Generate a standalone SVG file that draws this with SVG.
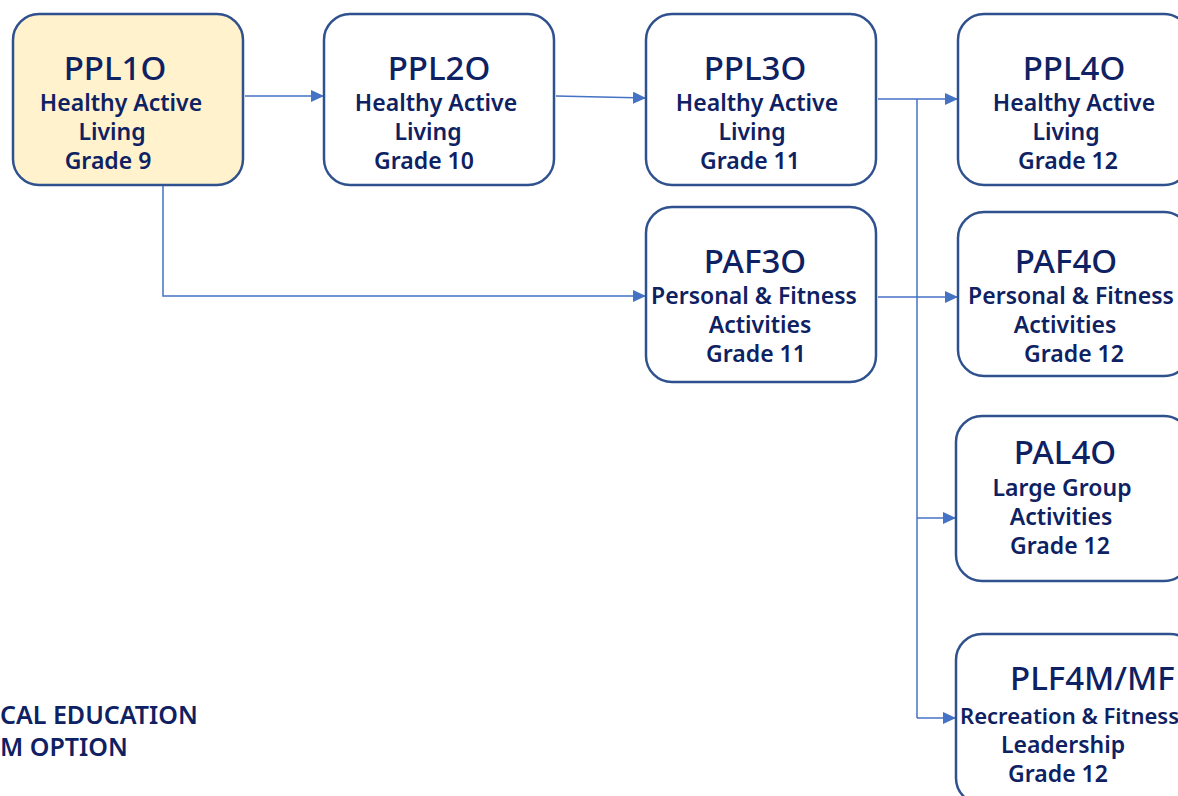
<svg xmlns="http://www.w3.org/2000/svg" width="1178" height="796" viewBox="0 0 1178 796">
<defs>
<marker id="arr" markerWidth="13" markerHeight="12" refX="13" refY="6" orient="auto" markerUnits="userSpaceOnUse" viewBox="0 0 13 12">
<path d="M0,0 L13,6 L0,12 Z" fill="#4472C4"/>
</marker>
<style>
.box{fill:#FFFFFF;stroke:#2F528F;stroke-width:2.5}
.hl{fill:#FFF2CC}
.t{font-family:"Noto Sans","Liberation Sans",sans-serif;fill:#0E2162;text-anchor:middle}
.h{font-size:33px;font-weight:500}
.s{font-size:23px;font-weight:600}
.c{fill:none;stroke:#4472C4;stroke-width:1.5}
.ca{marker-end:url(#arr)}
.cap{text-anchor:start;font-size:25px;font-weight:600}
</style>
</defs>
<rect width="1178" height="796" fill="#FFFFFF"/>
<g id="connectors">
<path class="c ca" d="M245,96 L324,96"/>
<path class="c ca" d="M556,96 L646,98"/>
<path class="c ca" d="M878,99 L958,99"/>
<path class="c" d="M917,99 L917,718"/>
<path class="c ca" d="M878,297 L958,297"/>
<path class="c ca" d="M917,518 L956,518"/>
<path class="c ca" d="M917,718 L956,718"/>
<path class="c ca" d="M163,185 L163,296 L646,296"/>
</g>
<g id="PPL1O">
<rect class="box hl" x="13" y="14" width="230" height="171" rx="26"/>
<text class="t h" x="115" y="80">PPL1O</text>
<text class="t s" x="121" y="111">Healthy Active</text>
<text class="t s" x="112" y="140">Living</text>
<text class="t s" x="108" y="169">Grade 9</text>
</g>
<g id="PPL2O">
<rect class="box" x="324" y="14" width="230" height="171" rx="26"/>
<text class="t h" x="439" y="80">PPL2O</text>
<text class="t s" x="436" y="111">Healthy Active</text>
<text class="t s" x="428" y="140">Living</text>
<text class="t s" x="424" y="169">Grade 10</text>
</g>
<g id="PPL3O">
<rect class="box" x="646" y="14" width="230" height="171" rx="26"/>
<text class="t h" x="755" y="80">PPL3O</text>
<text class="t s" x="757" y="111">Healthy Active</text>
<text class="t s" x="752" y="140">Living</text>
<text class="t s" x="750" y="169">Grade 11</text>
</g>
<g id="PPL4O">
<rect class="box" x="958" y="14" width="232" height="171" rx="26"/>
<text class="t h" x="1074" y="80">PPL4O</text>
<text class="t s" x="1074" y="111">Healthy Active</text>
<text class="t s" x="1066" y="140">Living</text>
<text class="t s" x="1068" y="169">Grade 12</text>
</g>
<g id="PAF3O">
<rect class="box" x="646" y="207" width="230" height="175" rx="26"/>
<text class="t h" x="755" y="273">PAF3O</text>
<text class="t s" x="754" y="304">Personal &amp; Fitness</text>
<text class="t s" x="760" y="333">Activities</text>
<text class="t s" x="756" y="362">Grade 11</text>
</g>
<g id="PAF4O">
<rect class="box" x="958" y="212" width="232" height="164" rx="26"/>
<text class="t h" x="1066" y="273">PAF4O</text>
<text class="t s" x="1071" y="304">Personal &amp; Fitness</text>
<text class="t s" x="1065" y="333">Activities</text>
<text class="t s" x="1074" y="362">Grade 12</text>
</g>
<g id="PAL4O">
<rect class="box" x="956" y="416" width="234" height="165" rx="26"/>
<text class="t h" x="1065" y="464">PAL4O</text>
<text class="t s" x="1062" y="496">Large Group</text>
<text class="t s" x="1061" y="525">Activities</text>
<text class="t s" x="1060" y="554">Grade 12</text>
</g>
<g id="PLF4M">
<rect class="box" x="956" y="634" width="240" height="170" rx="26"/>
<text class="t h" x="1010" y="690" style="text-anchor:start">PLF4M/MF</text>
<text class="t s" x="960" y="724" style="text-anchor:start;font-size:22px">Recreation &amp; Fitness</text>
<text class="t s" x="1063" y="753">Leadership</text>
<text class="t s" x="1058" y="782">Grade 12</text>
</g>
<g id="caption">
<text class="t cap" x="0" y="724">CAL EDUCATION</text>
<text class="t cap" x="0" y="756">M OPTION</text>
</g>
</svg>
